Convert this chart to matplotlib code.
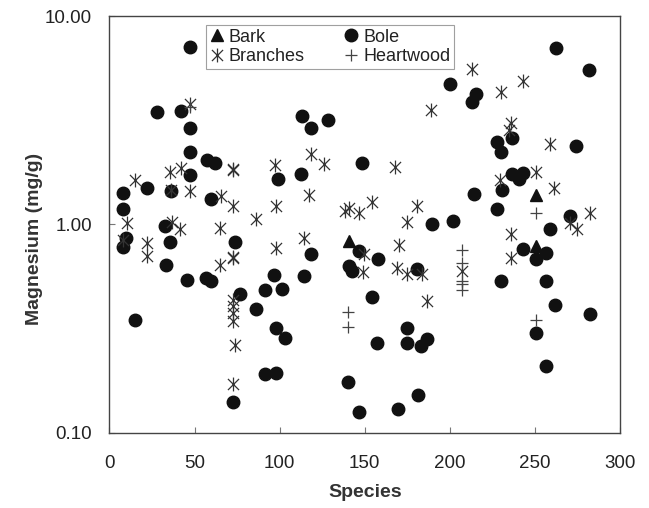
import matplotlib
matplotlib.use("Agg")
import matplotlib.pyplot as plt
from matplotlib.path import Path
from matplotlib.ticker import FixedLocator, FixedFormatter, NullLocator

plt.rcParams['font.family'] = ['Liberation Sans', 'DejaVu Sans']

# ---- data (species index, magnesium mg/g) ----
bark_x = [140.6, 250.4, 250.8]
bark_y = [0.83, 1.39, 0.787]

bole_x = [47.6, 27.7, 41.9, 47.2, 47.2, 57.2, 61.8, 47.2, 21.8, 8.1, 8.1, 59.9, 98.9,
          36.0, 32.5, 8.1, 9.7, 35.5, 73.6, 33.5, 45.6, 57.0, 59.9, 76.5, 85.9, 91.1,
          96.4, 101.5, 14.9, 97.6, 102.9, 91.1, 97.6, 72.6, 189.4, 118.5, 114.6, 140.6,
          142.3, 146.4, 157.6, 154.3, 140.0, 146.4, 157.0, 175.1, 175.1, 183.0, 186.3,
          169.3, 181.4, 181.0, 113.2, 118.5, 128.3, 148.4, 112.3, 200.2, 262.5, 281.7,
          215.2, 212.9, 236.3, 227.9, 229.9, 273.9, 236.3, 240.6, 243.1, 230.5, 214.2,
          227.9, 201.9, 270.9, 258.8, 243.0, 256.6, 250.8, 229.9, 256.3, 261.7, 282.6,
          250.8, 256.6]
bole_y = [7.08, 3.48, 3.49, 2.89, 2.24, 2.05, 1.98, 1.72, 1.49, 1.42, 1.19, 1.33, 1.66,
          1.44, 0.98, 0.78, 0.86, 0.82, 0.82, 0.64, 0.54, 0.555, 0.534, 0.466, 0.391, 0.484,
          0.569, 0.491, 0.347, 0.319, 0.286, 0.191, 0.194, 0.140, 1.01, 0.723, 0.565, 0.631,
          0.597, 0.744, 0.684, 0.450, 0.175, 0.126, 0.270, 0.319, 0.270, 0.261, 0.283,
          0.130, 0.151, 0.608, 3.31, 2.89, 3.19, 1.98, 1.75, 4.70, 7.05, 5.51,
          4.21, 3.87, 2.61, 2.49, 2.22, 2.38, 1.74, 1.66, 1.76, 1.46, 1.40,
          1.19, 1.04, 1.10, 0.95, 0.764, 0.731, 0.684, 0.538, 0.538, 0.410, 0.370,
          0.300, 0.210]

branch_x = [47.6, 35.5, 41.9, 14.9, 36.0, 47.6, 72.6, 72.6, 97.0, 65.8, 72.6, 97.6, 85.9,
            10.1, 36.5, 41.3, 64.8, 7.7, 21.8, 21.8, 64.8, 72.6, 72.6, 97.6, 72.6, 72.6,
            72.6, 72.6, 73.6, 72.6, 118.5, 126.3, 117.5, 167.9, 189.2, 138.6, 140.6, 146.4,
            154.3, 181.0, 175.1, 114.6, 149.4, 148.8, 170.3, 168.9, 175.1, 183.6, 186.3,
            212.9, 243.1, 229.9, 235.8, 234.8, 258.8, 229.5, 250.8, 261.1, 282.6, 270.9,
            274.8, 235.8, 235.8, 207.0]
branch_y = [3.77, 1.79, 1.87, 1.64, 1.47, 1.44, 1.84, 1.82, 1.94, 1.37, 1.22, 1.23, 1.06,
            1.02, 1.03, 0.946, 0.964, 0.841, 0.817, 0.705, 0.636, 0.692, 0.70, 0.773, 0.436, 0.405,
            0.374, 0.343, 0.263, 0.171, 2.17, 1.96, 1.39, 1.88, 3.53, 1.16, 1.20, 1.13,
            1.28, 1.22, 1.03, 0.863, 0.723, 0.593, 0.793, 0.615, 0.580, 0.580, 0.428,
            5.55, 4.91, 4.32, 3.08, 2.84, 2.44, 1.64, 1.78, 1.50, 1.13, 1.02,
            0.946, 0.895, 0.692, 0.597]

heart_x = [140.4, 140.4, 207.0, 207.0, 207.0, 207.0, 207.0, 250.8, 250.8, 47.6]
heart_y = [0.379, 0.323, 0.750, 0.650, 0.534, 0.515, 0.484, 0.347, 1.13, 3.67]

x_ticks = [0, 50, 100, 150, 200, 250, 300]
y_ticks = [0.1, 1.0, 10.0]
y_tick_labels = ["0.10", "1.00", "10.00"]

# ---- figure ----
fig = plt.figure(figsize=(6.49, 5.08), dpi=100)
ax = fig.add_axes([0.1687, 0.1482, 0.7866, 0.8199])

star = Path([(-1, -1), (1, 1), (-1, 1), (1, -1), (0, -1.25), (0, 1.25)],
            [Path.MOVETO, Path.LINETO, Path.MOVETO, Path.LINETO, Path.MOVETO, Path.LINETO])

ax.plot(bark_x, bark_y, linestyle='none', marker='^', markersize=9,
        color='#111111', label='Bark', zorder=3)
ax.plot(branch_x, branch_y, linestyle='none', marker=star, markersize=10,
        markerfacecolor='none', markeredgecolor='#333333', markeredgewidth=0.9,
        label='Branches', zorder=4)
ax.plot(bole_x, bole_y, linestyle='none', marker='o', markersize=9,
        color='#111111', label='Bole', zorder=3)
ax.plot(heart_x, heart_y, linestyle='none', marker='+', markersize=9,
        markeredgecolor='#444444', markeredgewidth=0.9, label='Heartwood', zorder=4)

ax.set_yscale('log')
ax.set_xlim(0, 300)
ax.set_ylim(0.1, 10)
ax.xaxis.set_major_locator(FixedLocator(x_ticks))
ax.yaxis.set_major_locator(FixedLocator(y_ticks))
ax.yaxis.set_major_formatter(FixedFormatter(y_tick_labels))
ax.yaxis.set_minor_locator(NullLocator())

ax.tick_params(axis='both', direction='in', length=4.5, width=0.8, color='#777777',
               labelsize=13.5, labelcolor='#222222')
ax.tick_params(axis='x', pad=16.4)
ax.tick_params(axis='y', pad=12.5)
for s in ax.spines.values():
    s.set_color('#444444')
    s.set_linewidth(1.0)

ax.set_xlabel('Species', fontsize=14, fontweight='bold', color='#333333')
ax.set_ylabel('Magnesium (mg/g)', fontsize=14, fontweight='bold', color='#333333')
ax.xaxis.set_label_coords(0.5, -0.123)
ax.yaxis.set_label_coords(-0.131, 0.465)

leg = ax.legend(ncol=2, loc='upper left', bbox_to_anchor=(0.189, 0.979),
                fontsize=13, frameon=True, fancybox=False, shadow=False,
                borderpad=0.2, labelspacing=0.15, handlelength=0.8,
                handletextpad=0.25, columnspacing=2.2, borderaxespad=0)
leg.get_frame().set_edgecolor('#888888')
leg.get_frame().set_linewidth(0.8)
for t in leg.get_texts():
    t.set_color('#222222')

fig.savefig('out.png', dpi=100)
